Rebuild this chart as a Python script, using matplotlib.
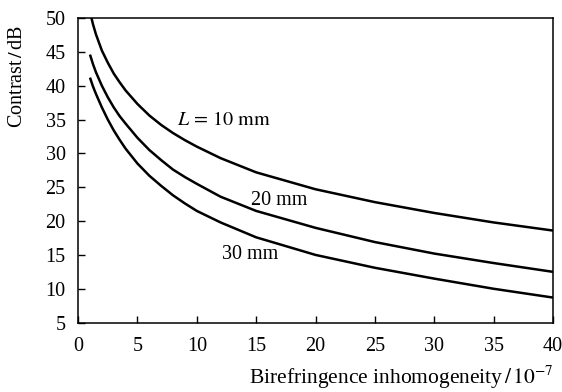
import numpy as np
import matplotlib.pyplot as plt

plt.rcParams['font.family'] = 'Liberation Serif'
plt.rcParams['mathtext.fontset'] = 'stix'

# birefringence inhomogeneity (units of 1e-7)
x = [1, 1.25, 1.5, 2, 2.5, 3, 3.5, 4, 5, 6, 7, 8, 9, 10, 12, 15, 20, 25, 30, 35, 40]

# contrast in dB for crystal lengths of 10, 20 and 30 mm
c10 = [50.9, 49.1, 47.6, 45.2, 43.4, 41.8, 40.5, 39.3, 37.3, 35.6, 34.2, 33.0, 31.95,
       31.0, 29.3, 27.2, 24.7, 22.8, 21.2, 19.8, 18.6]
c20 = [44.6, 43.2, 42.0, 40.0, 38.3, 36.8, 35.5, 34.4, 32.3, 30.5, 29.0, 27.6, 26.5,
       25.5, 23.6, 21.5, 19.0, 16.9, 15.2, 13.8, 12.5]
c30 = [41.2, 39.9, 38.8, 36.8, 35.0, 33.4, 32.0, 30.7, 28.5, 26.7, 25.2, 23.8, 22.6,
       21.5, 19.8, 17.6, 15.0, 13.1, 11.5, 10.0, 8.7]

labels = [r"$L\,=\,10\ \mathrm{mm}$", "20 mm", "30 mm"]
label_pos = [(8.3, 34.9), (14.6, 23.1), (12.1, 15.0)]

fig = plt.figure(figsize=(5.62, 3.92), dpi=100)
ax = fig.add_axes([0.139, 0.177, 0.845, 0.777])

for c in (c10, c20, c30):
    ax.plot(x, c, color='black', lw=1.8, solid_capstyle='butt')

for txt, (tx, ty) in zip(labels, label_pos):
    ax.text(tx, ty, txt, fontsize=14.5, ha='left', va='center')

ax.set_xlim(0, 40)
ax.set_ylim(5, 50)
ax.set_xticks(np.arange(0, 41, 5))
ax.set_yticks(np.arange(5, 51, 5))
ax.tick_params(direction='in', length=5, width=1.0, labelsize=14.5)
ax.tick_params(axis='x', pad=10)
ax.tick_params(axis='y', pad=9)
for s in ax.spines.values():
    s.set_linewidth(1.1)

fig.text(0.031, 1 - 76 / 392, r"Contrast$\,/\,$dB", rotation=90, fontsize=14.5,
         ha='center', va='center')
fig.text(0.985, 1 - 384 / 392, r"Birefringence inhomogeneity$\,/\,10^{-7}$",
         fontsize=15.5, ha='right', va='baseline')

fig.savefig('out.png', dpi=100)
